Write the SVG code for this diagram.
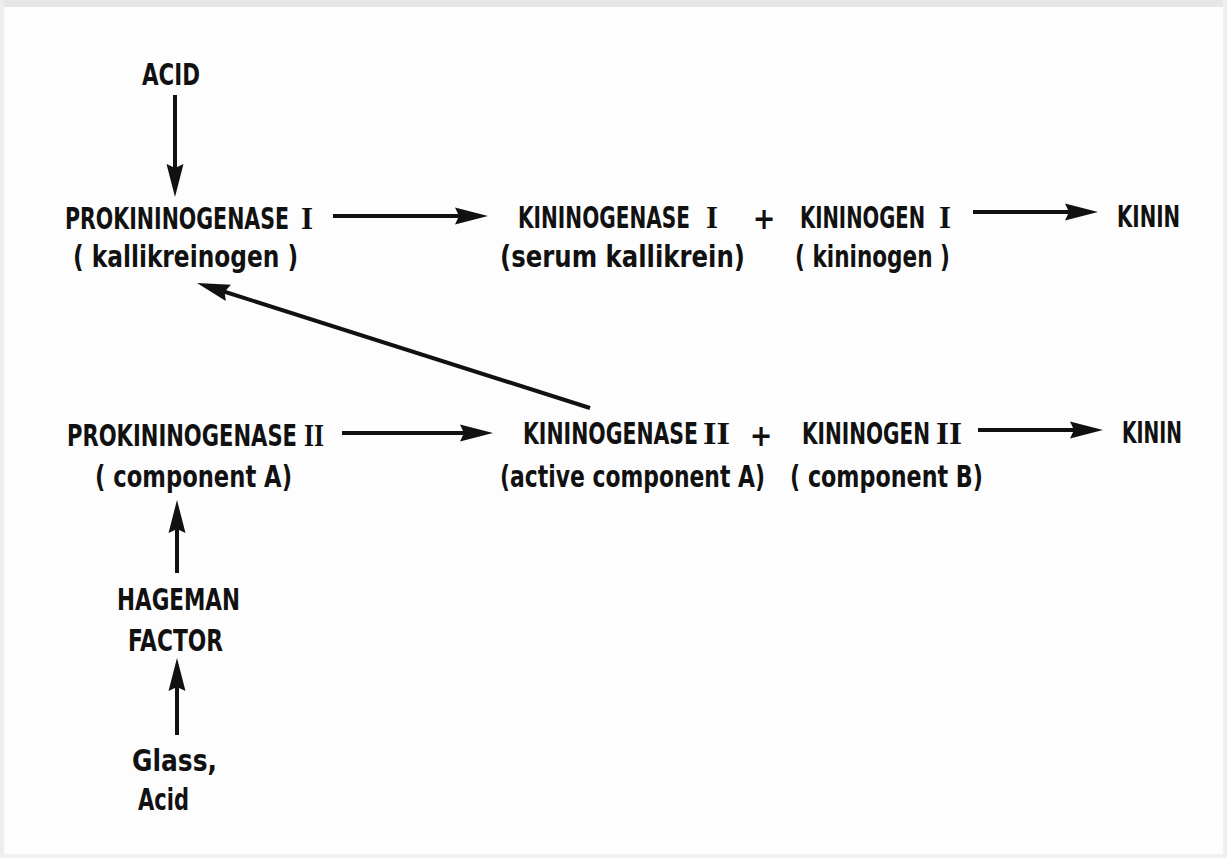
<svg xmlns="http://www.w3.org/2000/svg" width="1227" height="858" viewBox="0 0 1227 858">
<style>
  .t { font-family: "DejaVu Sans Condensed", "DejaVu Sans", "Liberation Sans", sans-serif; font-weight: bold; font-size: 30px; fill: #111; }
  .r { font-family: "Liberation Serif", "DejaVu Serif", serif; font-weight: bold; font-size: 32px; fill: #111; }
  .c { stroke: #111; stroke-width: 4; fill: none; }
</style>
<defs>
  <marker id="ah" markerUnits="userSpaceOnUse" markerWidth="60" markerHeight="30" refX="0" refY="0" viewBox="-20 -15 60 30" orient="auto" overflow="visible">
    <path d="M20,0 L-13,-8.5 L-9,0 L-13,8.5 Z" fill="#111"/>
  </marker>
</defs>
<rect x="0" y="0" width="1227" height="858" fill="#fdfdfd"/>
<rect x="0" y="0" width="1227" height="7" fill="#e6e6e6"/>
<rect x="0" y="0" width="4" height="858" fill="#eeeeee"/>
<rect x="1223" y="0" width="4" height="858" fill="#f0f0f0"/>
<rect x="0" y="854" width="1227" height="4" fill="#f0f0f0"/>

<g id="connectors">
  <line class="c" x1="175" y1="95" x2="175" y2="177" marker-end="url(#ah)"/>
  <line class="c" x1="333" y1="216" x2="468" y2="216" marker-end="url(#ah)"/>
  <line class="c" x1="973" y1="212" x2="1078" y2="212" marker-end="url(#ah)"/>
  <line class="c" x1="590" y1="408" x2="216" y2="289" marker-end="url(#ah)"/>
  <line class="c" x1="342" y1="433" x2="473" y2="433" marker-end="url(#ah)"/>
  <line class="c" x1="978" y1="430" x2="1083" y2="430" marker-end="url(#ah)"/>
  <line class="c" x1="177" y1="573" x2="177" y2="520" marker-end="url(#ah)"/>
  <line class="c" x1="177" y1="735" x2="177" y2="678" marker-end="url(#ah)"/>
</g>

<g id="acid"><text class="t" transform="matrix(0.78 0 0 1 142 85)" textLength="74.4" lengthAdjust="spacingAndGlyphs">ACID</text></g>

<g id="prokininogenase1">
  <text class="t" transform="matrix(0.78 0 0 1 65 229)" textLength="287.2" lengthAdjust="spacingAndGlyphs">PROKININOGENASE</text>
  <text class="r" transform="matrix(0.78 0 0 1 301 229)" textLength="15.4" lengthAdjust="spacingAndGlyphs">I</text>
  <text class="t" transform="matrix(0.78 0 0 1 73 267)" textLength="288.5" lengthAdjust="spacingAndGlyphs">( kallikreinogen )</text>
</g>

<g id="kininogenase1">
  <text class="t" transform="matrix(0.78 0 0 1 518 228)" textLength="220.5" lengthAdjust="spacingAndGlyphs">KININOGENASE</text>
  <text class="r" transform="matrix(0.78 0 0 1 706 228)" textLength="15.4" lengthAdjust="spacingAndGlyphs">I</text>
  <text class="t" transform="matrix(0.78 0 0 1 500 267)" textLength="314.1" lengthAdjust="spacingAndGlyphs">(serum kallikrein)</text>
</g>

<g id="plus1"><text class="t" x="764" y="229" text-anchor="middle">+</text></g>

<g id="kininogen1">
  <text class="t" transform="matrix(0.78 0 0 1 800 228)" textLength="160.3" lengthAdjust="spacingAndGlyphs">KININOGEN</text>
  <text class="r" transform="matrix(0.78 0 0 1 939 228)" textLength="15.4" lengthAdjust="spacingAndGlyphs">I</text>
  <text class="t" transform="matrix(0.78 0 0 1 795 267)" textLength="198.7" lengthAdjust="spacingAndGlyphs">( kininogen )</text>
</g>

<g id="kinin1"><text class="t" transform="matrix(0.78 0 0 1 1117 227)" textLength="80.8" lengthAdjust="spacingAndGlyphs">KININ</text></g>

<g id="prokininogenase2">
  <text class="t" transform="matrix(0.78 0 0 1 67 446)" textLength="294.9" lengthAdjust="spacingAndGlyphs">PROKININOGENASE</text>
  <text class="r" transform="matrix(0.78 0 0 1 304 446)" textLength="25.6" lengthAdjust="spacingAndGlyphs">II</text>
  <text class="t" transform="matrix(0.78 0 0 1 95 487)" textLength="252.6" lengthAdjust="spacingAndGlyphs">( component A)</text>
</g>

<g id="kininogenase2">
  <text class="t" transform="matrix(0.78 0 0 1 523 444)" textLength="224.4" lengthAdjust="spacingAndGlyphs">KININOGENASE</text>
  <text class="r" transform="matrix(0.78 0 0 1 703 444)" textLength="34.6" lengthAdjust="spacingAndGlyphs">II</text>
  <text class="t" transform="matrix(0.78 0 0 1 500 487)" textLength="339.7" lengthAdjust="spacingAndGlyphs">(active component A)</text>
</g>

<g id="plus2"><text class="t" x="761" y="446" text-anchor="middle">+</text></g>

<g id="kininogen2">
  <text class="t" transform="matrix(0.78 0 0 1 802 444)" textLength="164.1" lengthAdjust="spacingAndGlyphs">KININOGEN</text>
  <text class="r" transform="matrix(0.78 0 0 1 936 444)" textLength="33.3" lengthAdjust="spacingAndGlyphs">II</text>
  <text class="t" transform="matrix(0.78 0 0 1 790 487)" textLength="247.4" lengthAdjust="spacingAndGlyphs">( component B)</text>
</g>

<g id="kinin2"><text class="t" transform="matrix(0.78 0 0 1 1122 443)" textLength="76.9" lengthAdjust="spacingAndGlyphs">KININ</text></g>

<g id="hageman">
  <text class="t" transform="matrix(0.78 0 0 1 117 610)" textLength="157.7" lengthAdjust="spacingAndGlyphs">HAGEMAN</text>
  <text class="t" transform="matrix(0.78 0 0 1 128 651)" textLength="121.8" lengthAdjust="spacingAndGlyphs">FACTOR</text>
</g>

<g id="glass">
  <text class="t" transform="matrix(0.78 0 0 1 132 771)" textLength="109" lengthAdjust="spacingAndGlyphs">Glass,</text>
  <text class="t" transform="matrix(0.78 0 0 1 138 810)" textLength="65.4" lengthAdjust="spacingAndGlyphs">Acid</text>
</g>
</svg>
